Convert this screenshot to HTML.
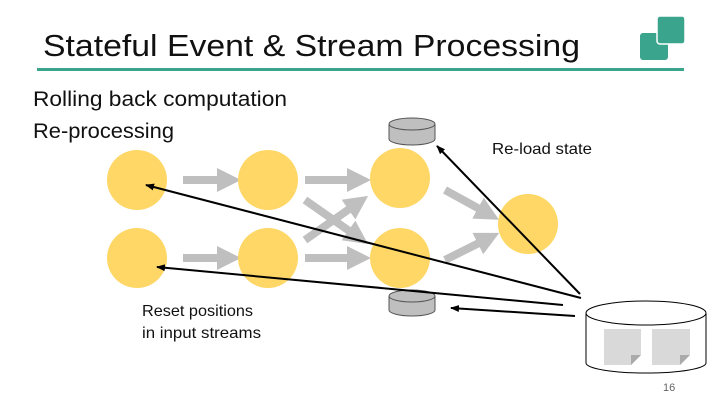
<!DOCTYPE html><html><head><style>body{margin:0}svg text{font-family:"Liberation Sans",sans-serif}</style></head><body>
<svg width="720" height="405" viewBox="0 0 720 405" xmlns="http://www.w3.org/2000/svg">
<rect width="720" height="405" fill="#fff"/>
<text x="43" y="56" font-size="31" fill="#111" textLength="537" lengthAdjust="spacingAndGlyphs">Stateful Event &amp; Stream Processing</text>
<rect x="37" y="68" width="647" height="3" fill="#3aa58c"/>
<rect x="640" y="33" width="28" height="27" rx="3" fill="#3aa58c"/>
<rect x="657" y="16" width="28" height="28" rx="3" fill="#3aa58c" stroke="#fff" stroke-width="1.5"/>
<text x="33" y="106" font-size="21" fill="#111" textLength="254" lengthAdjust="spacingAndGlyphs">Rolling back computation</text>
<text x="33" y="138" font-size="21" fill="#111" textLength="141" lengthAdjust="spacingAndGlyphs">Re-processing</text>
<text x="492" y="154" font-size="16" fill="#111" textLength="100" lengthAdjust="spacingAndGlyphs">Re-load state</text>
<text x="142" y="316" font-size="16" fill="#111" textLength="111" lengthAdjust="spacingAndGlyphs">Reset positions</text>
<text x="142" y="338" font-size="16" fill="#111" textLength="119" lengthAdjust="spacingAndGlyphs">in input streams</text>
<text x="663" y="391" font-size="11" fill="#666">16</text>
<defs><marker id="g" markerWidth="3" markerHeight="3" refX="1" refY="1.5" orient="auto"><path d="M0,0 L3,1.5 L0,3z" fill="#bfbfbf"/></marker>
<marker id="a" markerWidth="9" markerHeight="7" refX="8" refY="3.5" orient="auto" markerUnits="userSpaceOnUse"><path d="M0,0 L9,3.5 L0,7z" fill="#000"/></marker></defs>
<g stroke="#bfbfbf" stroke-width="8" fill="none" marker-end="url(#g)">
<line x1="183" y1="180" x2="225" y2="180"/><line x1="183" y1="258" x2="225" y2="258"/>
<line x1="305" y1="180" x2="355" y2="180"/><line x1="305" y1="258" x2="355" y2="258"/>
<line x1="305" y1="240" x2="355" y2="205"/><line x1="305" y1="200" x2="355" y2="235"/>
<line x1="445" y1="190" x2="485" y2="212"/><line x1="445" y1="260" x2="485" y2="240"/>
</g>
<g fill="#fed766">
<circle cx="137" cy="180" r="30"/><circle cx="137" cy="258" r="30"/>
<circle cx="268" cy="180" r="30"/><circle cx="268" cy="258" r="30"/>
<circle cx="400" cy="178" r="30"/><circle cx="400" cy="258" r="30"/>
<circle cx="528" cy="224" r="30"/>
</g>
<g fill="#bfbfbf" stroke="#555">
<path d="M389,124 v15 a23,6 0 0 0 46,0 v-15"/><ellipse cx="412" cy="124" rx="23" ry="6"/>
<path d="M389,296 v14 a23,6 0 0 0 46,0 v-14"/><ellipse cx="412" cy="296" rx="23" ry="6"/>
</g>
<g fill="#fff" stroke="#000">
<path d="M586,313 v50 a60,10 0 0 0 120,0 v-50"/><ellipse cx="646" cy="313" rx="60" ry="12"/>
</g>
<rect x="604" y="329" width="37" height="36" fill="#d9d9d9"/><rect x="652" y="329" width="38" height="36" fill="#d9d9d9"/>
<path d="M631,365 l10,-10 v10z M680,365 l10,-10 v10z" fill="#fff"/><path d="M631,365 l10,-10 h-10z M680,365 l10,-10 h-10z" fill="#aaa"/>
<g stroke="#000" stroke-width="2" marker-end="url(#a)">
<line x1="581" y1="298" x2="146" y2="185"/>
<line x1="563" y1="305" x2="157" y2="267"/>
<line x1="575" y1="316" x2="451" y2="308"/>
<line x1="580" y1="294" x2="437" y2="146"/>
</g>
</svg></body></html>
